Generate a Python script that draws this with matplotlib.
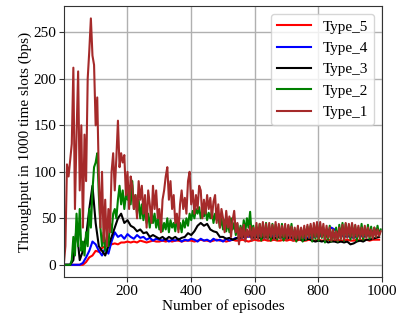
import numpy as np
import matplotlib
matplotlib.use("Agg")
import matplotlib.pyplot as plt

plt.rcParams['font.family'] = ['Liberation Serif', 'DejaVu Serif']

# episodes sampled every 5 (fine) and every 10 (coarse)
ep_fine = np.arange(1, 1001, 5)
ep_coarse = np.arange(1, 1001, 10)

type1 = [0, 20, 108, 95, 112, 130, 212, 60, 140, 208, 80, 150, 40, 140, 90, 200, 230, 265, 225, 215,
         150, 180, 95, 40, 100, 25, 70, 20, 60, 35, 100, 120, 80, 115, 155, 105, 120, 110, 118, 75,
         100, 60, 95, 85, 60, 75, 50, 90, 70, 85, 55, 75, 40, 80, 65, 45, 85, 60, 80, 50,
         60, 35, 70, 80, 95, 105, 70, 90, 60, 75, 45, 55, 35, 65, 80, 60, 72, 55, 90, 100,
         65, 80, 55, 75, 60, 85, 80, 50, 70, 55, 75, 60, 72, 50, 68, 75, 45, 65, 40, 60,
         50, 35, 58, 40, 52, 30, 48, 58, 35, 45, 22, 40, 28, 43, 25, 38, 30, 42, 26, 40,
         28, 45, 27, 44, 30, 46, 28, 44, 27, 45, 30, 43, 27, 46, 29, 44, 28, 42, 30, 44,
         27, 43, 29, 41, 26, 40, 28, 42, 27, 40, 29, 42, 28, 43, 29, 44, 28, 45, 30, 46,
         28, 46, 30, 44, 27, 42, 29, 40, 26, 38, 27, 36, 26, 40, 28, 43, 27, 45, 29, 44,
         30, 45, 28, 43, 30, 42, 28, 40, 30, 42, 29, 40, 30, 38, 28, 40, 30, 38, 31, 36]

type2 = [0, 0, 0, 0, 0, 5, 30, 10, 55, 20, 60, 15, 25, 10, 35, 20, 60, 40, 80, 105,
         110, 120, 75, 40, 20, 35, 15, 30, 20, 45, 35, 55, 60, 50, 70, 85, 65, 80, 60, 75,
         70, 85, 65, 90, 60, 75, 55, 70, 50, 65, 48, 60, 45, 55, 40, 58, 45, 55, 40, 50,
         38, 48, 36, 45, 38, 50, 35, 48, 40, 45, 36, 50, 38, 45, 35, 48, 40, 50, 42, 55,
         48, 58, 50, 60, 55, 62, 50, 58, 52, 60, 48, 56, 50, 58, 45, 55, 48, 52, 40, 50,
         38, 48, 36, 46, 35, 50, 38, 45, 32, 44, 30, 42, 32, 48, 36, 50, 40, 57, 30, 42,
         28, 40, 30, 44, 26, 42, 30, 45, 28, 42, 26, 44, 30, 43, 27, 41, 29, 44, 26, 40,
         28, 42, 30, 44, 27, 38, 25, 40, 28, 36, 25, 39, 27, 41, 29, 42, 25, 40, 28, 44,
         26, 42, 29, 40, 24, 38, 27, 42, 25, 36, 28, 40, 25, 43, 28, 45, 26, 44, 30, 42,
         27, 44, 29, 42, 26, 40, 28, 44, 27, 40, 30, 43, 28, 41, 29, 40, 30, 42, 32, 38]

type3 = [0, 0, 0, 5, 40, 5, 15, 30, 60, 85, 45, 20, 15, 10, 20, 30, 40, 50, 55, 45,
         48, 42, 40, 36, 38, 34, 35, 30, 32, 30, 28, 30, 27, 30, 28, 30, 27, 29, 30, 34,
         32, 36, 42, 45, 42, 44, 38, 36, 35, 30, 30, 28, 29, 27, 28, 30, 29, 33, 34, 30,
         29, 30, 28, 31, 29, 30, 28, 30, 29, 31, 28, 30, 29, 27, 28, 26, 27, 28, 26, 25,
         26, 25, 26, 24, 25, 25, 24, 25, 24, 25, 22, 23, 25, 26, 25, 27, 27, 28, 29, 30]

type4 = [0, 0, 0, 0, 0, 0, 2, 8, 15, 25, 22, 15, 10, 18, 12, 25, 35, 30, 32, 28,
         33, 30, 28, 32, 29, 30, 27, 29, 26, 28, 27, 26, 28, 25, 27, 26, 28, 25, 27, 26,
         28, 27, 25, 28, 26, 27, 25, 28, 26, 27, 25, 28, 26, 27, 29, 28, 30, 29, 31, 29,
         30, 32, 31, 29, 31, 30, 32, 31, 30, 29, 31, 30, 28, 30, 29, 30, 28, 30, 29, 31,
         30, 32, 34, 36, 40, 38, 35, 33, 30, 31, 30, 29, 31, 32, 30, 31, 33, 35, 38, 36]

type5 = [0, 0, 0, 0, 0, 0, 0, 3, 8, 10, 15, 14, 18, 20, 21, 22, 23, 22, 24, 24,
         25, 24, 25, 24, 26, 25, 24, 25, 26, 25, 25, 26, 25, 26, 25, 26, 26, 25, 26, 26,
         26, 25, 26, 27, 26, 26, 25, 26, 27, 26, 26, 25, 26, 27, 26, 26, 27, 26, 25, 26,
         27, 26, 26, 27, 26, 26, 27, 26, 26, 27, 26, 27, 26, 26, 27, 26, 26, 27, 26, 26,
         27, 26, 26, 27, 26, 26, 27, 26, 26, 27, 26, 26, 27, 26, 27, 27, 26, 27, 27, 27]

labels = ["Type_5", "Type_4", "Type_3", "Type_2", "Type_1"]
colors = ["red", "blue", "black", "green", "brown"]

fig = plt.figure(figsize=(4.17, 3.2), dpi=100)
ax = fig.add_axes([0.153, 0.134, 0.763, 0.847])

series = [(ep_coarse, type5), (ep_coarse, type4), (ep_coarse, type3), (ep_fine, type2), (ep_fine, type1)]
for (x, y), lab, c in zip(series, labels, colors):
    ax.plot(x, y, color=c, lw=1.5, label=lab)

ax.set_xlim(1, 1000)
ax.set_xticks([200, 400, 600, 800, 1000])
ax.set_yticks([0, 50, 100, 150, 200, 250])
ax.grid(True, color="#b0b0b0", lw=1)
ax.set_axisbelow(True)
for s in ax.spines.values():
    s.set_color("#333333")
ax.tick_params(labelsize=11, color="#333333", pad=2)
ax.set_xlabel("Number of episodes", fontsize=11, labelpad=1)
ax.set_ylabel("Throughput in 1000 time slots (bps)", fontsize=11, labelpad=1)
ax.legend(loc="upper right", fontsize=11, handlelength=2.2, borderaxespad=0.5)

fig.savefig("out.png", dpi=100)
